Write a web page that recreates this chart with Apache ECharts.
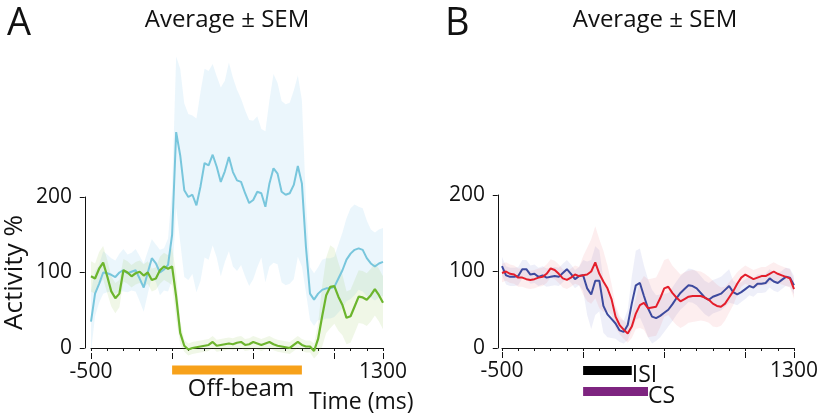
<!DOCTYPE html>
<html><head><meta charset="utf-8">
<script src="https://cdn.jsdelivr.net/npm/echarts@6/dist/echarts.min.js"></script>
<style>html,body{margin:0;padding:0;background:#fff}#c{width:822px;height:420px}</style>
</head><body><div id="c"></div>
<script>
// ---------- data ----------
const timeMs = [-500,-475,-450,-425,-400,-375,-350,-325,-300,-275,-250,-225,-200,-175,-150,-125,-100,-75,-50,-25,
  0,25,50,75,100,125,150,175,200,225,250,275,300,325,350,375,400,425,450,475,500,525,550,575,600,625,650,675,700,725,
  750,775,800,825,850,875,900,925,950,975,1000,1025,1050,1075,1100,1125,1150,1175,1200,1225,1250,1275,1300];

// Panel A
const cyanMean = [35,72,85,100,99,97,94,100,103,99,101,103,92,80,100,119,112,100,104,110,
  150,286,255,209,200,203,189,214,245,242,256,240,220,234,253,233,222,220,205,192,196,207,205,187,218,238,231,207,203,205,
  216,241,218,134,72,64,72,77,79,79,81,92,103,117,125,130,132,130,119,112,108,112,114];
const cyanSem = [40,30,25,28,25,22,22,25,28,25,25,28,30,32,28,25,25,30,28,35,
  60,100,115,115,110,105,115,125,125,125,120,120,125,120,125,125,120,110,110,110,105,100,85,100,110,125,120,120,120,120,
  125,120,110,60,35,35,35,40,40,40,40,45,50,55,60,60,55,55,50,45,45,45,45];
const greenMean = [95,92,105,113,95,75,66,72,103,100,95,99,101,96,100,90,92,103,108,105,
  108,68,20,3,-2,0,1,2,3,4,8,3,4,5,6,5,7,8,4,5,8,6,4,6,8,5,3,2,1,0,
  4,8,4,2,2,-4,12,42,70,81,82,68,57,40,42,55,68,67,64,70,78,70,60];
const greenSem = [20,20,22,22,22,20,20,18,15,15,15,15,15,15,15,15,15,18,18,18,
  25,30,15,8,8,8,8,8,8,8,8,8,8,8,8,8,8,8,8,8,8,8,8,8,8,8,8,8,8,8,
  8,8,8,8,8,10,20,40,50,55,50,45,40,35,35,35,35,35,35,35,35,35,35];

// Panel B
const blueMean = [107,95,93,93,94,103,103,96,97,93,95,92,93,94,93,98,103,97,90,94,
  95,78,70,88,88,55,44,38,32,23,21,30,58,82,85,68,52,41,39,42,46,50,57,65,72,77,82,81,78,72,
  66,63,67,69,71,76,81,73,70,73,77,81,79,84,84,85,91,87,85,89,93,92,82];
const blueSem = [12,12,12,12,12,12,12,12,12,12,12,12,12,12,12,12,12,12,12,12,
  20,35,45,45,40,35,30,25,20,15,15,20,35,45,45,40,38,35,30,28,25,22,22,22,22,22,22,22,22,22,
  22,22,22,22,22,22,22,15,14,13,13,12,12,12,12,12,12,12,12,12,12,12,12];
const redMean = [98,100,97,96,92,92,90,89,90,92,93,97,104,102,97,91,89,92,96,94,
  95,96,100,112,97,87,78,64,41,30,24,19,28,45,56,59,52,53,54,65,78,80,72,66,61,64,67,68,68,68,
  66,63,58,55,54,58,66,74,84,92,96,93,90,92,94,94,97,100,97,95,93,91,77];
const redSem = [12,12,12,12,12,12,12,12,12,12,12,12,12,12,12,12,12,12,12,12,
  25,35,42,47,45,40,30,20,15,12,12,12,15,20,30,35,38,38,38,38,37,37,36,36,35,35,34,34,33,32,
  31,30,30,28,25,22,20,18,15,12,12,12,12,12,12,12,12,12,12,12,12,12,12];

// Event windows (ms)
const offBeamWindow = [0, 800];
const isiWindow = [0, 300];
const csWindow = [0, 400];

// Axis ticks / labels
const xRange = [-500, 1300];
const xLabelValues = [-500, 1300];
const xMajorTicks = [-500, 0, 500, 1000, 1300];
const yRange = [0, 200];

// ---------- chart ----------
const FONT = 'Open Sans';
const INK = '#111';
const pairs = ys => timeMs.map((t, i) => [t, ys[i]]);

function bandSeries(mean, sem, color, xi, yi) {
  const data = timeMs.map((t, i) => [t, mean[i] - sem[i], mean[i] + sem[i]]);
  return {
    type:'custom', xAxisIndex:xi, yAxisIndex:yi, data, silent:true, z:1,
    encode:{x:0, y:[1, 2]},
    renderItem(params, api) {
      if (params.dataIndex !== 0) return null;
      const up = data.map(d => api.coord([d[0], d[2]]));
      const lo = data.map(d => api.coord([d[0], d[1]])).reverse();
      return {type:'polygon', shape:{points: up.concat(lo)}, style:{fill:color}};
    }
  };
}
function lineSeries(mean, color, xi, yi, w) {
  return {type:'line', xAxisIndex:xi, yAxisIndex:yi, data:pairs(mean), symbol:'none',
    lineStyle:{color:color, width:w}, clip:false, z:3, silent:true};
}
function dataX(gridIndex, offset) {
  return {type:'value', gridIndex, position:'bottom', min:xRange[0], max:xRange[1], interval:100, offset,
    axisLine:{show:true, lineStyle:{color:INK, width:1}},
    axisTick:{show:true, length:3, lineStyle:{color:INK}},
    axisLabel:{show:true, customValues:xLabelValues, formatter:v => String(v),
      fontFamily:FONT, fontSize:21, color:INK, margin:9},
    splitLine:{show:false}};
}
function majorX(gridIndex, offset) {
  return {type:'value', gridIndex, position:'bottom', min:xRange[0], max:xRange[1], offset,
    axisLine:{show:false}, axisTick:{show:true, customValues:xMajorTicks, length:6, lineStyle:{color:INK}},
    axisLabel:{show:false}, splitLine:{show:false}};
}
function hiddenX(gridIndex) {
  return {type:'value', gridIndex, min:xRange[0], max:xRange[1], show:false};
}
function visibleY(gridIndex, name) {
  return {type:'value', gridIndex, min:yRange[0], max:yRange[1], interval:100,
    axisLine:{show:true, lineStyle:{color:INK, width:1}},
    axisTick:{show:true, length:5, lineStyle:{color:INK}},
    axisLabel:{fontFamily:FONT, fontSize:21, color:INK, margin:10},
    splitLine:{show:false},
    name:name, nameLocation:'middle', nameRotate:90, nameGap:54,
    nameTextStyle:{fontFamily:FONT, fontSize:26, color:INK}};
}
function annBar(name, win, color, xi, yi) {
  return {type:'line', name, xAxisIndex:xi, yAxisIndex:yi, data:[[win[0], name],[win[1], name]],
    symbol:'none', lineStyle:{color, width:9, cap:'butt'}, silent:true, clip:false,
    endLabel:{show: name !== 'Off-beam', formatter:'{a}', fontFamily:FONT, fontSize:23, color:INK,
      distance:5, align:'left', verticalAlign:'middle'}};
}

const chart = echarts.init(document.getElementById('c'), null, {renderer:'canvas'});
const titleStyle = {fontFamily:FONT, fontSize:24, fontWeight:'normal', color:INK};
chart.setOption({
  animation:false,
  backgroundColor:'#fff',
  title:[
    {text:'A', left:2, top:0, textStyle:{fontFamily:FONT, fontSize:38, fontWeight:'normal', color:INK}},
    {text:'Average ± SEM', left:222, top:3, textAlign:'center', textStyle:titleStyle},
    {text:'Off-beam', left:236, top:372, textAlign:'center', textStyle:titleStyle},
    {text:'Time (ms)', left:304, top:386, textStyle:{fontFamily:FONT, fontSize:23, fontWeight:'normal', color:INK}},
    {text:'B', left:440, top:0, textStyle:{fontFamily:FONT, fontSize:38, fontWeight:'normal', color:INK}},
    {text:'Average ± SEM', left:650, top:3, textAlign:'center', textStyle:titleStyle}
  ],
  grid:[
    {left:91, top:46, width:292, height:302},   // 0 A data
    {left:82, top:197, width:10, height:151},   // 1 A y axis
    {left:91, top:361, width:292, height:18},   // 2 A annotation
    {left:502, top:42, width:292, height:306},  // 3 B data
    {left:495, top:195, width:10, height:153},  // 4 B y axis
    {left:502, top:360, width:292, height:42}   // 5 B annotation
  ],
  xAxis:[
    dataX(0, 5), majorX(0, 5), hiddenX(1), hiddenX(2),
    dataX(3, 4), majorX(3, 4), hiddenX(4), hiddenX(5)
  ],
  yAxis:[
    {type:'value', gridIndex:0, min:0, max:400, show:false},
    visibleY(1, 'Activity %'),
    {type:'category', gridIndex:2, data:['Off-beam'], show:false},
    {type:'value', gridIndex:3, min:0, max:400, show:false},
    visibleY(4, ''),
    {type:'category', gridIndex:5, data:['ISI','CS'], inverse:true, show:false}
  ],
  series:[
    bandSeries(cyanMean, cyanSem, 'rgba(120,195,232,0.15)', 0, 0),
    bandSeries(greenMean, greenSem, 'rgba(140,190,70,0.13)', 0, 0),
    lineSeries(cyanMean, '#78c6dc', 0, 0, 2),
    lineSeries(greenMean, '#6cb52d', 0, 0, 2.2),
    annBar('Off-beam', offBeamWindow, '#f7a11a', 3, 2),
    bandSeries(blueMean, blueSem, 'rgba(100,110,200,0.11)', 4, 3),
    bandSeries(redMean, redSem, 'rgba(240,90,100,0.10)', 4, 3),
    lineSeries(blueMean, '#3d4a9e', 4, 3, 2),
    lineSeries(redMean, '#e41e2b', 4, 3, 2),
    annBar('ISI', isiWindow, '#000000', 7, 5),
    annBar('CS', csWindow, '#7e2480', 7, 5)
  ]
});
</script></body></html>
